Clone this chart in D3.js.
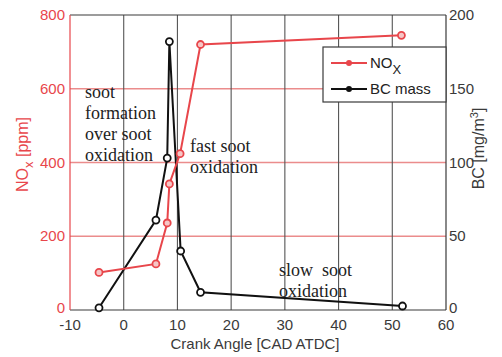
<!DOCTYPE html>
<html>
<head>
<meta charset="utf-8">
<script src="https://cdn.jsdelivr.net/npm/d3@7"></script>
<style>
  body { margin: 0; background: #fff; }
  text { font-family: 'Liberation Sans', Arial, sans-serif; }
  text.note { font-family: 'Liberation Serif', 'Times New Roman', serif; white-space: pre; }
</style>
</head>
<body>
<div id="chart"></div>
<script>
// data
const noxAngle = [-4.6, 6.0, 8.1, 8.5, 10.5, 14.3, 51.7]
const noxPpm = [102, 125, 236, 342, 424, 720, 745]
const bcAngle = [-4.6, 6.0, 8.1, 8.5, 10.6, 14.3, 51.9]
const bcMass = [1.5, 61, 103, 182, 40, 12, 2.7]

const xTicks = [-10, 0, 10, 20, 30, 40, 50, 60]
const noxTicks = [0, 200, 400, 600, 800]
const bcTicks = [0, 50, 100, 150, 200]

const width = 502
const height = 357
const margin = { top: 15, left: 70, right: 56, bottom: 47 }
const w = width - margin.left - margin.right
const h = height - margin.top - margin.bottom

const red = '#e8464b'
const redGrid = '#eb8c8c'
const dark = '#3a3a3a'

const svg = d3
  .select('#chart')
  .append('svg')
  .attr('width', width)
  .attr('height', height)
  .append('g')
  .attr('transform', 'translate(' + margin.left + ',' + margin.top + ')')

const x = d3.scaleLinear().domain([-10, 60]).range([0, w])
const yNox = d3.scaleLinear().domain([0, 800]).range([h, 0])
const yBc = d3.scaleLinear().domain([0, 200]).range([h, 0])

// grid
svg
  .selectAll('.hgrid')
  .data(noxTicks.slice(1, -1))
  .enter()
  .append('line')
  .attr('class', 'hgrid')
  .attr('x1', 0)
  .attr('x2', w)
  .attr('y1', d => yNox(d))
  .attr('y2', d => yNox(d))
  .attr('stroke', redGrid)
  .attr('stroke-width', 1.3)

svg
  .selectAll('.vgrid')
  .data(xTicks.slice(1, -1))
  .enter()
  .append('line')
  .attr('class', 'vgrid')
  .attr('x1', d => x(d))
  .attr('x2', d => x(d))
  .attr('y1', 0)
  .attr('y2', h)
  .attr('stroke', '#555')
  .attr('stroke-width', 1.1)

// frame
svg.append('line').attr('x1', 0).attr('x2', w).attr('y1', 0).attr('y2', 0)
  .attr('stroke', dark).attr('stroke-width', 1.2)
svg.append('line').attr('x1', 0).attr('x2', w).attr('y1', h).attr('y2', h)
  .attr('stroke', dark).attr('stroke-width', 1.2)
svg.append('line').attr('x1', w).attr('x2', w).attr('y1', 0).attr('y2', h)
  .attr('stroke', dark).attr('stroke-width', 1.2)
svg.append('line').attr('x1', 0).attr('x2', 0).attr('y1', 0).attr('y2', h)
  .attr('stroke', red).attr('stroke-width', 1.2)

// axes labels
svg
  .selectAll('.xlab')
  .data(xTicks)
  .enter()
  .append('text')
  .attr('class', 'xlab')
  .text(d => d)
  .attr('x', d => x(d))
  .attr('y', h + 20)
  .attr('text-anchor', 'middle')
  .attr('font-size', 15)
  .attr('fill', dark)

svg
  .selectAll('.ylab')
  .data(noxTicks)
  .enter()
  .append('text')
  .attr('class', 'ylab')
  .text(d => d)
  .attr('x', -5)
  .attr('y', d => yNox(d) + (d === 0 ? 3 : 5))
  .attr('text-anchor', 'end')
  .attr('font-size', 15)
  .attr('fill', red)

svg
  .selectAll('.y2lab')
  .data(bcTicks)
  .enter()
  .append('text')
  .attr('class', 'y2lab')
  .text(d => d)
  .attr('x', w + 3)
  .attr('y', d => yBc(d) + (d === 0 ? 3 : 5))
  .attr('font-size', 15)
  .attr('fill', dark)

svg
  .append('text')
  .text('Crank Angle [CAD ATDC]')
  .attr('x', w / 2 - 3)
  .attr('y', h + 39)
  .attr('text-anchor', 'middle')
  .attr('font-size', 15)
  .attr('fill', dark)

const leftTitle = svg
  .append('text')
  .attr('transform', `translate(-42,${h / 2 - 8}) rotate(-90)`)
  .attr('text-anchor', 'middle')
  .attr('font-size', 16)
  .attr('fill', red)
leftTitle.append('tspan').text('NO')
leftTitle.append('tspan').text('x').attr('dy', 5).attr('font-size', 13)
leftTitle.append('tspan').text(' [ppm]').attr('dy', -5)

const rightTitle = svg
  .append('text')
  .attr('transform', `translate(${w + 38},${h / 2 - 14}) rotate(-90)`)
  .attr('text-anchor', 'middle')
  .attr('font-size', 16)
  .attr('fill', dark)
rightTitle.append('tspan').text('BC [mg/m')
rightTitle.append('tspan').text('3').attr('dy', -6).attr('font-size', 11)
rightTitle.append('tspan').text(']').attr('dy', 6)

// series
const noxData = noxAngle.map((a, i) => ({ a, v: noxPpm[i] }))
const bcData = bcAngle.map((a, i) => ({ a, v: bcMass[i] }))

svg
  .append('path')
  .datum(bcData)
  .attr('d', d3.line().x(d => x(d.a)).y(d => yBc(d.v)))
  .attr('fill', 'none')
  .attr('stroke', '#111')
  .attr('stroke-width', 2)

svg
  .append('path')
  .datum(noxData)
  .attr('d', d3.line().x(d => x(d.a)).y(d => yNox(d.v)))
  .attr('fill', 'none')
  .attr('stroke', red)
  .attr('stroke-width', 2)

svg
  .selectAll('.bcpt')
  .data(bcData)
  .enter()
  .append('circle')
  .attr('class', 'bcpt')
  .attr('cx', d => x(d.a))
  .attr('cy', d => yBc(d.v))
  .attr('r', 3.5)
  .attr('fill', '#fff')
  .attr('stroke', '#111')
  .attr('stroke-width', 1.8)

svg
  .selectAll('.noxpt')
  .data(noxData)
  .enter()
  .append('circle')
  .attr('class', 'noxpt')
  .attr('cx', d => x(d.a))
  .attr('cy', d => yNox(d.v))
  .attr('r', 3.5)
  .attr('fill', '#f6c6c6')
  .attr('stroke', red)
  .attr('stroke-width', 1.8)

// annotations
const notes = [
  { lines: ['soot', 'formation', 'over soot', 'oxidation'], x: 85, y: 98 },
  { lines: ['fast soot', 'oxidation'], x: 190, y: 152 },
  { lines: ['slow  soot', 'oxidation'], x: 279, y: 276 }
]
notes.forEach(n => {
  n.lines.forEach((l, i) => {
    svg
      .append('text')
      .attr('class', 'note')
      .text(l)
      .attr('x', n.x - margin.left)
      .attr('y', n.y - margin.top + i * 21)
      .attr('font-size', 18)
      .attr('fill', '#222')
  })
})

// legend
const lg = svg.append('g').attr('transform', `translate(${323 - margin.left},${47 - margin.top})`)
lg.append('rect')
  .attr('width', 446 - 323)
  .attr('height', 55)
  .attr('fill', '#fff')
  .attr('stroke', dark)
  .attr('stroke-width', 1.2)

const legendItems = [
  { name: 'NO', sub: 'X', color: red, y: 16 },
  { name: 'BC mass', sub: null, color: '#111', y: 42 }
]
legendItems.forEach(d => {
  lg.append('line')
    .attr('x1', 8).attr('x2', 44)
    .attr('y1', d.y).attr('y2', d.y)
    .attr('stroke', d.color).attr('stroke-width', 2)
  lg.append('circle')
    .attr('cx', 26).attr('cy', d.y).attr('r', 3)
    .attr('fill', d.color)
  const t = lg.append('text')
    .attr('x', 47).attr('y', d.y + 5)
    .attr('font-size', 15)
    .attr('fill', '#222')
  t.append('tspan').text(d.name)
  if (d.sub) t.append('tspan').text(d.sub).attr('dy', 6).attr('font-size', 13)
})
</script>
</body>
</html>
